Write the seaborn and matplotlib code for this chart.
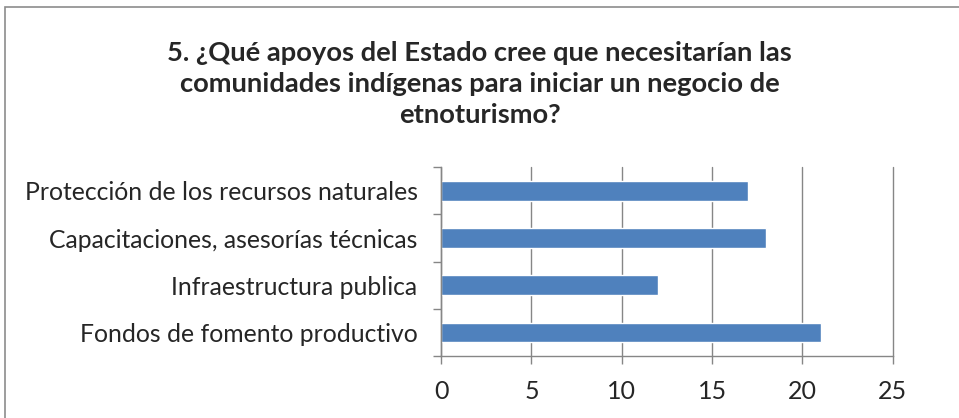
import matplotlib
matplotlib.use("Agg")
import matplotlib.pyplot as plt
import seaborn as sns
import pandas as pd
from matplotlib.patches import Rectangle

# ── Data ──────────────────────────────────────────────────────────────────────
categories = [
    "Protección de los recursos naturales",
    "Capacitaciones, asesorías técnicas",
    "Infraestructura publica",
    "Fondos de fomento productivo",
]
values = [17, 18, 12, 21]
x_ticks = [0, 5, 10, 15, 20, 25]
title = ("5. ¿Qué apoyos del Estado cree que necesitarían las\n"
         "comunidades indígenas para iniciar un negocio de\n"
         "etnoturismo?")

df = pd.DataFrame({"categoria": categories, "valor": values})

# ── Style ─────────────────────────────────────────────────────────────────────
sns.set_style("white")
plt.rcParams["font.family"] = ["Lato", "DejaVu Sans"]

BAR = "#4F81BD"
GRID = "#868686"

fig = plt.figure(figsize=(9.59, 4.18), dpi=100)
ax = fig.add_axes([0.46, 0.148, 0.471, 0.452])

sns.barplot(data=df, x="valor", y="categoria", orient="h", color=BAR,
            width=0.42, saturation=1, ax=ax)

ax.set_xlim(0, 25)
ax.set_ylim(3.5, -0.5)
ax.set_xticks(x_ticks)
ax.set_xticklabels([str(t) for t in x_ticks], fontsize=18)
ax.set_xlabel("")
ax.set_ylabel("")

# category boundaries as minor ticks
ax.set_yticks([-0.5, 0.5, 1.5, 2.5, 3.5], minor=True)
ax.tick_params(axis="y", which="major", length=0, pad=17, labelsize=17.8)
ax.tick_params(axis="y", which="minor", length=6, width=1, color=GRID, left=True)
ax.tick_params(axis="x", which="major", length=6, width=1, color=GRID,
               bottom=True, pad=11)

ax.grid(axis="x", color=GRID, linewidth=1)
for line in ax.get_xgridlines():
    line.set_clip_on(False)
ax.set_axisbelow(True)
for s in ["top", "right"]:
    ax.spines[s].set_visible(False)
for s in ["left", "bottom"]:
    ax.spines[s].set_color(GRID)
    ax.spines[s].set_linewidth(1)

fig.text(0.5, 0.799, title, ha="center", va="center", fontsize=19.7,
         fontweight="bold", linespacing=1.33)

# chart border
fig.patches.append(Rectangle((5 / 959, -0.1), 1.2, (418 - 7) / 418 + 0.1,
                             transform=fig.transFigure, fill=False,
                             edgecolor="#8C8C8C", linewidth=1.2))

fig.savefig("out.png", dpi=100)
